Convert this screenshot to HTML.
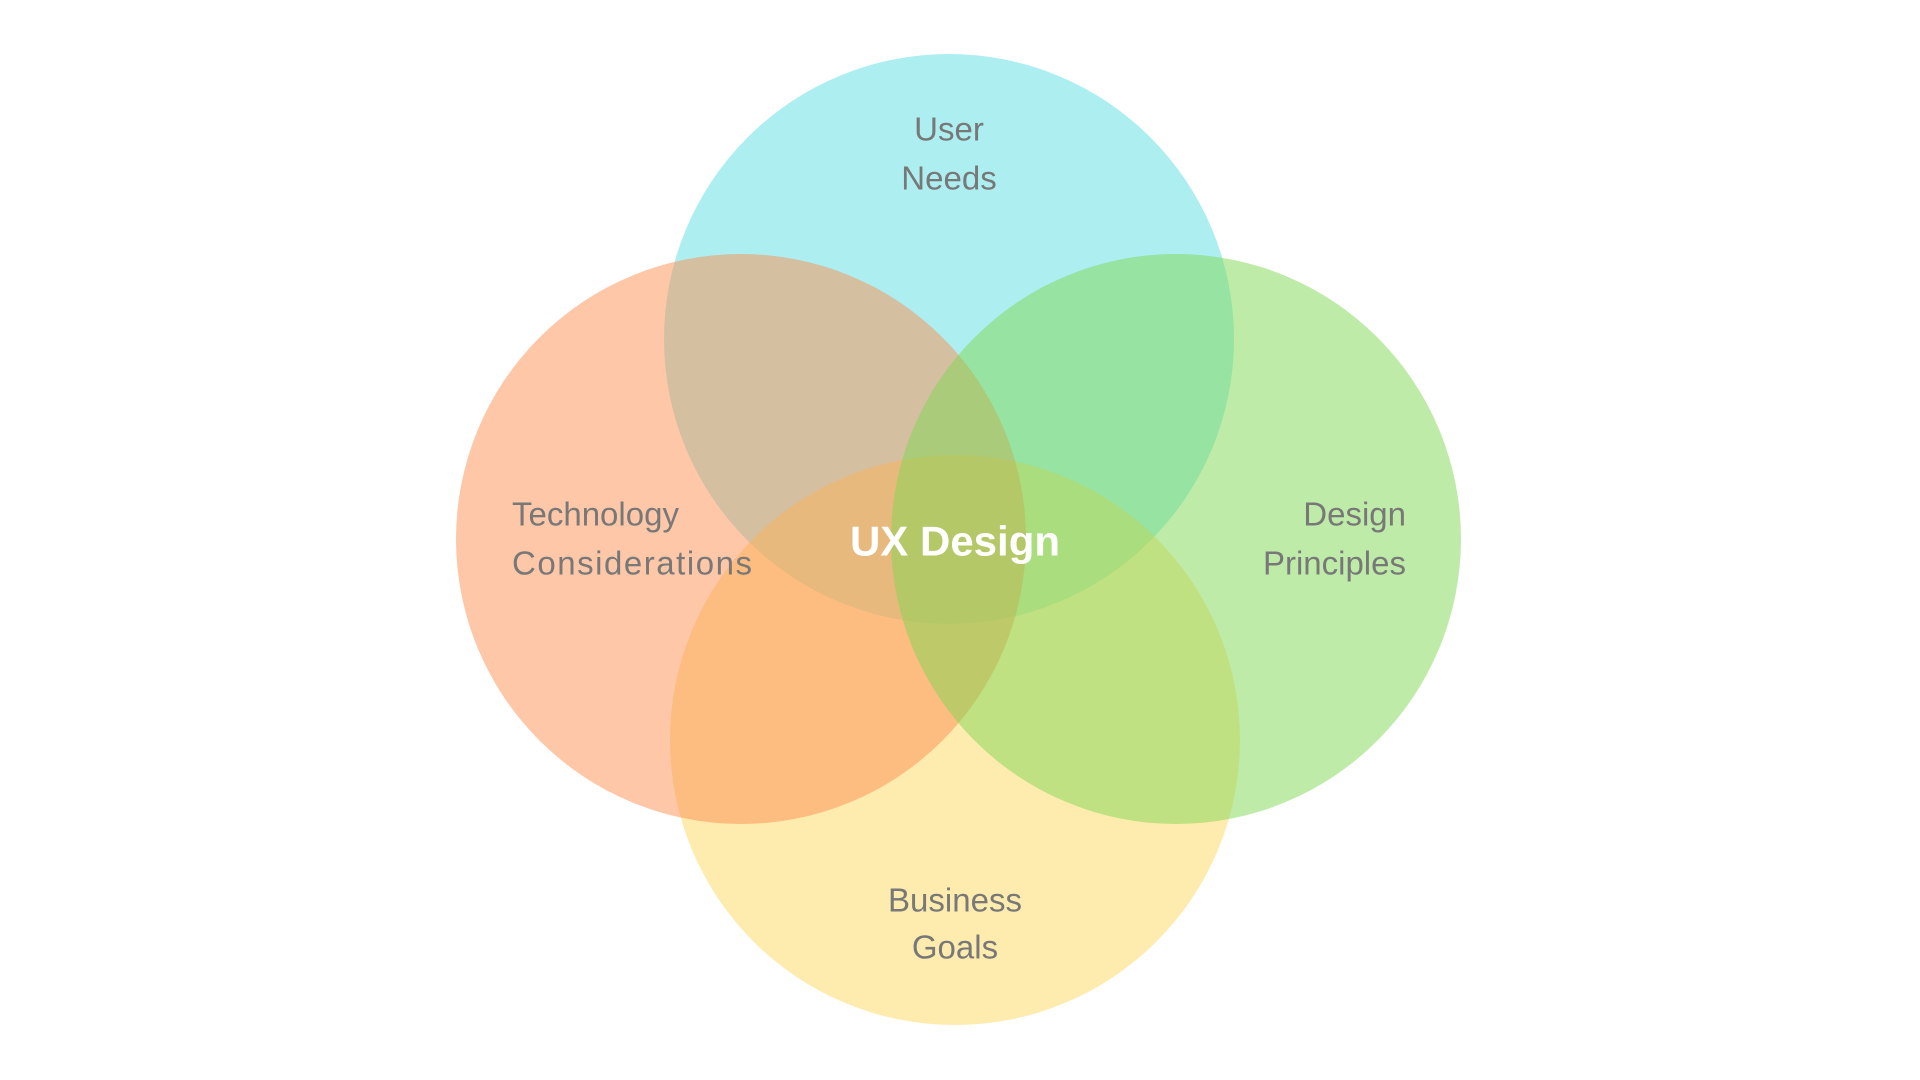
<!DOCTYPE html>
<html><head><meta charset="utf-8"><style>html,body{margin:0;padding:0;background:#fff;}svg{display:block}</style></head>
<body>
<svg width="1920" height="1080" viewBox="0 0 1920 1080" xmlns="http://www.w3.org/2000/svg">
<circle cx="949" cy="339" r="285" fill="rgb(91,221,227)" fill-opacity="0.5"/>
<circle cx="955" cy="740" r="285" fill="rgb(253,215,93)" fill-opacity="0.5"/>
<circle cx="741" cy="539" r="285" fill="rgb(251,143,81)" fill-opacity="0.5"/>
<circle cx="1176" cy="539" r="285" fill="rgb(127,215,83)" fill-opacity="0.5"/>
<g font-family="Liberation Sans, sans-serif" font-size="33" fill="#787878" dominant-baseline="central">
<text x="949" y="129" text-anchor="middle">User</text>
<text x="949" y="178" text-anchor="middle">Needs</text>
<text x="512" y="514">Technology</text>
<text x="512" y="563" textLength="240">Considerations</text>
<text x="1406" y="514" text-anchor="end">Design</text>
<text x="1406" y="563" text-anchor="end">Principles</text>
<text x="955" y="900" text-anchor="middle">Business</text>
<text x="955" y="947" text-anchor="middle">Goals</text>
</g>
<text x="955" y="541" text-anchor="middle" dominant-baseline="central" font-family="Liberation Sans, sans-serif" font-size="42" font-weight="bold" fill="#fff">UX Design</text>
</svg>
</body></html>
